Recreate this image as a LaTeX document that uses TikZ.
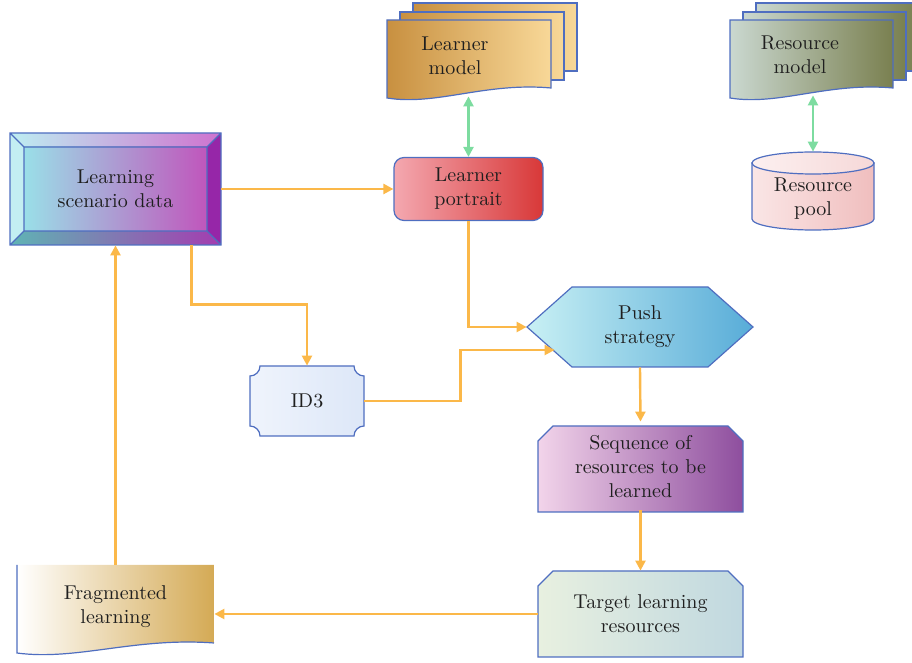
\documentclass[tikz,border=0pt]{standalone}
\usepackage{tikz}
\usetikzlibrary{arrows.meta}

\definecolor{rimblue}{HTML}{4F6EC0}
\definecolor{flowor}{HTML}{FBB849}
\definecolor{linkgreen}{HTML}{7DDCA0}
% fills
\definecolor{scenTopL}{HTML}{BDEEF2}
\definecolor{scenTopM}{HTML}{E8C8F0}
\definecolor{scenTopR}{HTML}{CF72CF}
\definecolor{scenSide}{HTML}{C3EEF2}
\definecolor{scenRight}{HTML}{9626A8}
\definecolor{scenBotL}{HTML}{5FB4B4}
\definecolor{scenBotM}{HTML}{9A80C0}
\definecolor{scenBotR}{HTML}{A43CB0}
\definecolor{scenL}{HTML}{9ADFE8}
\definecolor{scenM}{HTML}{C6B4E6}
\definecolor{scenR}{HTML}{C056BC}
\definecolor{lmodL}{HTML}{C89040}
\definecolor{lmodR}{HTML}{F8D898}
\definecolor{rmodL}{HTML}{CAD8D0}
\definecolor{rmodR}{HTML}{7A8050}
\definecolor{poolL}{HTML}{FAE6E6}
\definecolor{poolR}{HTML}{F0BEBE}
\definecolor{poolTopL}{HTML}{FCF0F0}
\definecolor{poolTopR}{HTML}{F6D8D8}
\definecolor{pushL}{HTML}{C8F0F4}
\definecolor{pushR}{HTML}{58ACD8}
\definecolor{idL}{HTML}{EFF4FC}
\definecolor{idR}{HTML}{DDE7F8}
\definecolor{seqL}{HTML}{F2D4EA}
\definecolor{seqM}{HTML}{D6AED0}
\definecolor{seqR}{HTML}{8E4E9E}
\definecolor{targL}{HTML}{E8F0E0}
\definecolor{targR}{HTML}{C0D8E0}
\definecolor{fragM}{HTML}{FFFEFB}
\definecolor{fragR}{HTML}{D4AA55}
\definecolor{portL}{HTML}{F4A8B0}
\definecolor{portR}{HTML}{D83838}

% wavy document: left x, right x, top y, bottom y (left end)
\newcommand{\docpath}[4]{(#1,#3) -- (#1,#4) .. controls ({#1+0.3*(#2-#1)},{#4+8}) and ({#1+0.6*(#2-#1)},{#4-16}) .. (#2,{#4-10}) -- (#2,#3) -- cycle}

\begin{document}
\begin{tikzpicture}[
		x=0.5pt, y=-0.5pt,
		>={Triangle[length=5pt,width=5pt]},
		box/.style={align=center, inner sep=0pt, text=black!88},
		rim/.style={draw=rimblue, line width=0.6pt},
		flow/.style={->, draw=flowor, line width=1.2pt},
		link/.style={<->, draw=linkgreen, line width=1.2pt}
		]
		\useasboundingbox (0,0) rectangle (912,663);
		\clip (0,0) rectangle (912,663);
		
		% bevelled data block
		\shade[left color=scenTopL, middle color=scenTopM, right color=scenTopR] (10,133) -- (221,133) -- (207,147) -- (24,147) -- cycle;
		\fill[scenSide] (10,133) -- (24,147) -- (24,231) -- (10,245) -- cycle;
		\fill[scenRight] (221,133) -- (221,245) -- (207,231) -- (207,147) -- cycle;
		\shade[left color=scenBotL, middle color=scenBotM, right color=scenBotR] (10,245) -- (221,245) -- (207,231) -- (24,231) -- cycle;
		\shade[left color=scenL, middle color=scenM, right color=scenR] (24,147) rectangle (207,231);
		\draw[rim] (10,133) rectangle (221,245) (24,147) rectangle (207,231)
		(10,133) -- (24,147) (221,133) -- (207,147) (10,245) -- (24,231) (221,245) -- (207,231);
		
		% stacked model documents
		\draw[rim, left color=lmodL, right color=lmodR] (413,3) rectangle (577,71);
		\draw[rim, left color=lmodL, right color=lmodR] (400,12) rectangle (564,80);
		\draw[rim, left color=lmodL, right color=lmodR] \docpath{387}{551}{20}{98};
		\draw[rim, left color=rmodL, right color=rmodR] (756,3) rectangle (919,71);
		\draw[rim, left color=rmodL, right color=rmodR] (743,12) rectangle (906,80);
		\draw[rim, left color=rmodL, right color=rmodR] \docpath{730}{893}{20}{98};
		
		% resource pool cylinder
		\draw[rim, left color=poolL, right color=poolR] (752,163) -- (752,219)
		.. controls (752,225.1) and (779.3,230) .. (813,230)
		.. controls (846.7,230) and (874,225.1) .. (874,219) -- (874,163) -- cycle;
		\draw[rim, left color=poolTopL, right color=poolTopR] (813,163) ellipse [x radius=61, y radius=11];
		
		% push strategy
		\draw[rim, left color=pushL, right color=pushR] (527,327) -- (572,287) -- (708,287) -- (753,327) -- (708,367) -- (572,367) -- cycle;
		
		% ID3 plaque
		\draw[rim, left color=idL, right color=idR] (260,366) -- (354,366)
		.. controls (354,371.5) and (358.5,376) .. (364,376) -- (364,426)
		.. controls (358.5,426) and (354,430.5) .. (354,436) -- (260,436)
		.. controls (260,430.5) and (255.5,426) .. (250,426) -- (250,376)
		.. controls (255.5,376) and (260,371.5) .. (260,366) -- cycle;
		
		% sequence and target
		\draw[rim, left color=seqL, middle color=seqM, right color=seqR] (553,426) -- (728,426) -- (743,441) -- (743,512) -- (538,512) -- (538,441) -- cycle;
		\draw[rim, left color=targL, right color=targR] (553,571) -- (728,571) -- (743,586) -- (743,657) -- (538,657) -- (538,586) -- cycle;
		
		% fragmented learning
		\shade[left color=white, middle color=fragM, right color=fragR] \docpath{17}{214}{565}{653};
		\draw[rim] (17,565) -- (17,653) .. controls (76.1,661) and (135.2,637) .. (214,643);
		
		% portrait
		\node[box, rim, rounded corners=5pt, left color=portL, right color=portR,
		minimum width=74.5pt, minimum height=31.5pt] (portrait) at (468.5,189) {Learner\\portrait};
		
		\node[box, minimum width=105.5pt, minimum height=56pt] (scen) at (115.5,189) {Learning\\scenario data};
		\node[box, minimum width=82pt, minimum height=40pt] (lmodel) at (455,56) {Learner\\model};
		\node[box, minimum width=82pt, minimum height=40pt] (rmodel) at (800,55) {Resource\\model};
		\node[box, minimum width=61pt, minimum height=47pt] (pool) at (813,199) {Resource\\pool};
		\node[box, minimum width=113pt, minimum height=40pt] (push) at (640,327) {Push\\strategy};
		\node[box, minimum width=57pt, minimum height=35pt] (id3) at (307,401) {ID3};
		\node[box, minimum width=102.5pt, minimum height=43pt] (seq) at (640.5,467) {Sequence of\\resources to be\\learned};
		\node[box, minimum width=102.5pt, minimum height=43pt] (target) at (640.5,614) {Target learning\\resources};
		\node[box, minimum width=98.5pt, minimum height=42pt] (frag) at (115.5,607) {Fragmented\\learning};
		
		% connectors
		\draw[link] (portrait.north |- lmodel.south) -- (portrait.north);
		\draw[link] (pool.north |- rmodel.south) -- (pool.north);
		\draw[flow] (scen.east) -- (portrait.west);
		\draw[flow] (portrait.south) |- (push.west);
		\draw[flow] ([xshift=38pt]scen.south) -- ++(0,59) -| (id3.north);
		\draw[flow] (id3.east) -- ++(96,0) |- ([xshift=14pt,yshift=-11.5pt]push.west);
		\draw[flow] (push.south) -- ([yshift=1pt]seq.north);
		\draw[flow] (seq.south) -- (target.north);
		\draw[flow] (target.west) -- (target.west -| frag.east);
		\draw[flow] (frag.north) -- (scen.south);
		
	\end{tikzpicture}
\end{document}
